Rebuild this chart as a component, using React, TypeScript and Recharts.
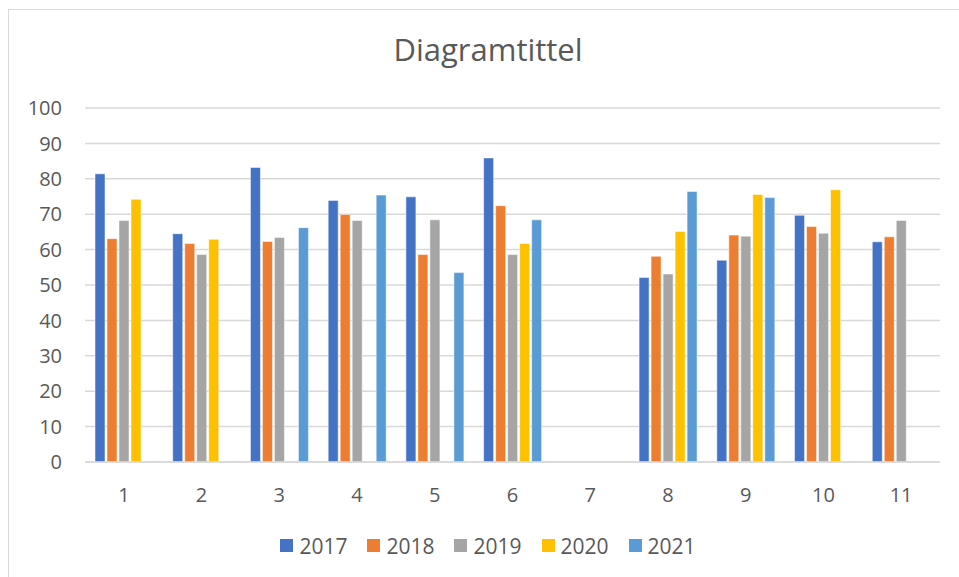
import React from 'react';
import { BarChart, Bar, XAxis, YAxis, CartesianGrid, Legend } from 'recharts';

const categories = ['1', '2', '3', '4', '5', '6', '7', '8', '9', '10', '11'];
const s2017: (number | null)[] = [81.4, 64.5, 83.2, 73.9, 74.9, 85.9, null, 52.1, 57.0, 69.7, 62.2];
const s2018: (number | null)[] = [63.1, 61.7, 62.3, 69.9, 58.6, 72.4, null, 58.1, 64.1, 66.5, 63.6];
const s2019: (number | null)[] = [68.2, 58.6, 63.4, 68.2, 68.4, 58.6, null, 53.1, 63.8, 64.6, 68.2];
const s2020: (number | null)[] = [74.2, 62.9, null, null, null, 61.7, null, 65.1, 75.6, 76.9, null];
const s2021: (number | null)[] = [null, null, 66.2, 75.4, 53.5, 68.4, null, 76.4, 74.7, null, null];
const yTicks = [0, 10, 20, 30, 40, 50, 60, 70, 80, 90, 100];
const seriesNames = ['2017', '2018', '2019', '2020', '2021'];
const colors = ['#4472C4', '#ED7D31', '#A5A5A5', '#FFC000', '#5B9BD5'];

const data = categories.map((c, i) => ({
  cat: c,
  '2017': s2017[i],
  '2018': s2018[i],
  '2019': s2019[i],
  '2020': s2020[i],
  '2021': s2021[i],
}));

const FONT = '"Open Sans", sans-serif';
const TXT = '#595959';

const renderLegend = () => (
  <div style={{ display: 'flex', justifyContent: 'center', alignItems: 'center', fontFamily: FONT, fontSize: 21, color: TXT, height: 27 }}>
    {seriesNames.map((n, i) => (
      <div key={n} style={{ display: 'flex', alignItems: 'center', marginRight: i < seriesNames.length - 1 ? 20 : 0 }}>
        <div style={{ width: 13, height: 13, background: colors[i], marginRight: 6 }} />
        <span>{n}</span>
      </div>
    ))}
  </div>
);

export default function App() {
  return (
    <div style={{ position: 'absolute', left: 0, top: 0, width: 959, height: 577, background: '#fff' }}>
      <div style={{ position: 'absolute', left: 8, top: 9, width: 980, height: 600, borderLeft: '1px solid #d9d9d9', borderTop: '1px solid #d9d9d9' }} />
      <div style={{ position: 'absolute', left: 288, top: 27, width: 400, textAlign: 'center', fontFamily: FONT, fontSize: 31, color: TXT, lineHeight: '44px' }}>
        Diagramtittel
      </div>
      <div style={{ position: 'absolute', left: 0, top: 0 }}>
        <BarChart
          width={959}
          height={577}
          data={data}
          margin={{ top: 108, right: 19, bottom: 0, left: 25 }}
          barCategoryGap={10}
          barGap={2}
        >
          <CartesianGrid vertical={false} stroke="#d9d9d9" strokeWidth={1.5} />
          <XAxis
            dataKey="cat"
            axisLine={{ stroke: '#d9d9d9', strokeWidth: 1.5 }}
            tickLine={false}
            tickSize={0}
            tickMargin={26}
            height={88}
            tick={{ fill: TXT, fontSize: 20, fontFamily: FONT }}
          />
          <YAxis
            domain={[0, 100]}
            ticks={yTicks}
            axisLine={false}
            tickLine={false}
            tickSize={0}
            tickMargin={23}
            width={60}
            interval={0}
            tick={{ fill: TXT, fontSize: 20, fontFamily: FONT }}
          />
          <Legend content={renderLegend} wrapperStyle={{ position: 'absolute', top: 532, left: 0, width: 976 }} />
          {seriesNames.map((n, i) => (
            <Bar key={n} dataKey={n} fill={colors[i]} stroke="#ffffff" strokeOpacity={0.5} strokeWidth={1} isAnimationActive={false} />
          ))}
        </BarChart>
      </div>
    </div>
  );
}
